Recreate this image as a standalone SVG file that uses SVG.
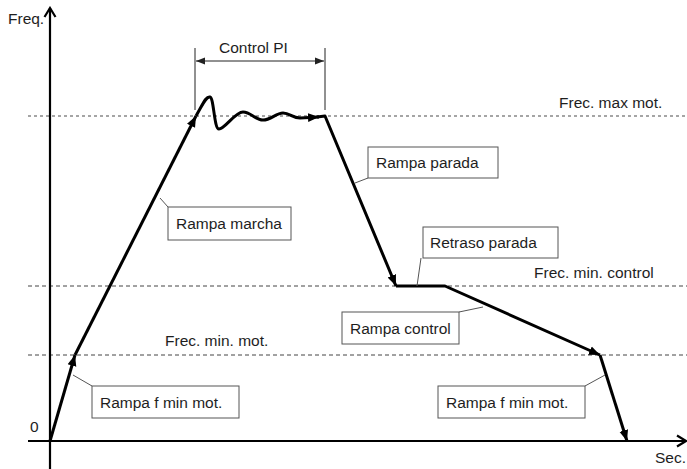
<svg xmlns="http://www.w3.org/2000/svg" width="687" height="469" viewBox="0 0 687 469">
<style>
text{font-family:"Liberation Sans",Arial,sans-serif;font-size:15.5px;fill:#1e1e1e}
.axis{stroke:#000;stroke-width:2.2;fill:none}
.curve{stroke:#000;stroke-width:3;fill:none;stroke-linejoin:round}
.dash{stroke:#444;stroke-width:1;stroke-dasharray:4 3;fill:none}
.dot{stroke:#888;stroke-width:1.6;stroke-dasharray:3 3;fill:none}
.box{fill:#fff;stroke:#555;stroke-width:1}
.lead{stroke:#555;stroke-width:1;fill:none}
.dim{stroke:#222;stroke-width:1;fill:none}
</style>
<defs>
<marker id="ah" markerUnits="userSpaceOnUse" markerWidth="12" markerHeight="10" refX="11" refY="5" orient="auto" viewBox="0 0 12 10">
<path d="M0,0.5 L11,5 L0,9.5 Z" fill="#000"/>
</marker>
<marker id="ax" markerUnits="userSpaceOnUse" markerWidth="14" markerHeight="14" refX="12" refY="7" orient="auto" viewBox="0 0 14 14">
<path d="M3,1.5 L12,7 L3,12.5" fill="none" stroke="#000" stroke-width="2.2"/>
</marker>
<marker id="da" markerUnits="userSpaceOnUse" markerWidth="10" markerHeight="8" refX="9" refY="4" orient="auto-start-reverse" viewBox="0 0 10 8">
<path d="M0,0.5 L9,4 L0,7.5 Z" fill="#222"/>
</marker>
</defs>

<g id="reference-lines">
<line class="dot" x1="28" y1="116" x2="687" y2="116"/>
<line class="dash" x1="28" y1="286" x2="687" y2="286"/>
<line class="dash" x1="28" y1="355" x2="687" y2="355"/>
<text x="559" y="108">Frec. max mot.</text>
<text x="534" y="278">Frec. min. control</text>
<text x="165" y="346">Frec. min. mot.</text>
</g>

<g id="axes">
<line class="axis" x1="50" y1="469" x2="50" y2="8" marker-end="url(#ax)"/>
<line class="axis" x1="28" y1="441" x2="686" y2="441" marker-end="url(#ax)"/>
<text x="8" y="24">Freq.</text>
<text x="30" y="432">0</text>
<text x="655" y="463">Sec.</text>
</g>

<g id="control-pi">
<line class="dim" x1="195" y1="48" x2="195" y2="110"/>
<line class="dim" x1="325" y1="48" x2="325" y2="110"/>
<line class="dim" x1="196" y1="61" x2="324" y2="61" marker-start="url(#da)" marker-end="url(#da)"/>
<text x="219" y="53">Control PI</text>
</g>

<g id="connectors">
<path class="curve" d="M50,441 L75,355" marker-end="url(#ah)"/>
<path class="curve" d="M75,355 L196,116" marker-end="url(#ah)"/>
<path class="curve" d="M196,116 C203,104 206,96 210,97 C214,98 214,129 219,129 C225,129 235,112 243,112 C251,112 255,120 263,120 C271,120 276,113 283,113 C290,113 292,118 300,118 L319,117" marker-end="url(#ah)"/>
<path class="curve" d="M317,117 L325,116 L396,286" marker-end="url(#ah)"/>
<path class="curve" d="M396,286 L445,286 L600,355" marker-end="url(#ah)"/>
<path class="curve" d="M600,355 L627,441" marker-end="url(#ah)"/>
<line class="lead" x1="73" y1="375" x2="92" y2="386"/>
<line class="lead" x1="160" y1="198" x2="168" y2="207"/>
<line class="lead" x1="355" y1="183" x2="368" y2="178"/>
<line class="lead" x1="417" y1="286" x2="421" y2="258"/>
<line class="lead" x1="483" y1="307" x2="459" y2="312"/>
<line class="lead" x1="605" y1="375" x2="585" y2="386"/>
</g>

<g id="rampa-f-min-mot-left">
<rect class="box" x="92" y="386" width="147" height="32"/>
<text x="100" y="408">Rampa f min mot.</text>
</g>
<g id="rampa-marcha">
<rect class="box" x="168" y="207" width="123" height="33"/>
<text x="176" y="229">Rampa marcha</text>
</g>
<g id="rampa-parada">
<rect class="box" x="368" y="147" width="130" height="31"/>
<text x="376" y="168">Rampa parada</text>
</g>
<g id="retraso-parada">
<rect class="box" x="423" y="227" width="135" height="31"/>
<text x="430" y="248">Retraso parada</text>
</g>
<g id="rampa-control">
<rect class="box" x="342" y="312" width="117" height="32"/>
<text x="350" y="334">Rampa control</text>
</g>
<g id="rampa-f-min-mot-right">
<rect class="box" x="438" y="386" width="147" height="32"/>
<text x="446" y="408">Rampa f min mot.</text>
</g>
</svg>
